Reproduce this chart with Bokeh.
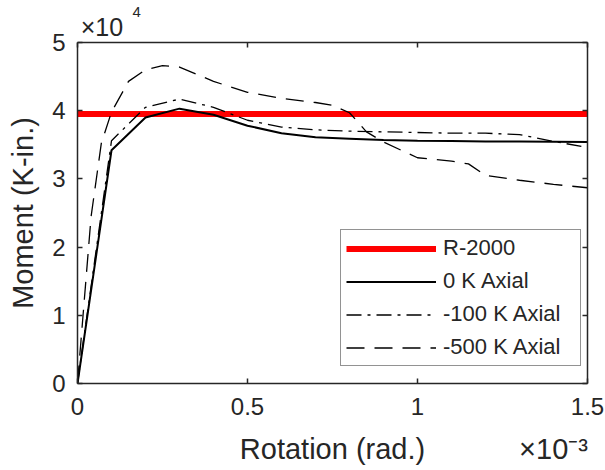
from bokeh.plotting import figure
from bokeh.models import Range1d, LinearAxis, FixedTicker, Legend, LegendItem
from bokeh.embed import file_html
from bokeh.resources import INLINE

# Data (rotation in 1e-3 rad, moment in 1e4 K-in.)
rot_r2000 = [0.0, 1.5]
mom_r2000 = [3.95, 3.95]

rot_0k = [0, 0.1, 0.2, 0.3, 0.4, 0.5, 0.6, 0.7, 0.8, 0.9, 1.0, 1.1, 1.2, 1.3, 1.4, 1.5]
mom_0k = [0, 3.42, 3.90, 4.03, 3.94, 3.78, 3.67, 3.61, 3.59, 3.57, 3.56, 3.555, 3.55, 3.55, 3.545, 3.54]

rot_100k = [0, 0.1, 0.2, 0.3, 0.4, 0.5, 0.6, 0.7, 0.8, 0.9, 1.0, 1.1, 1.2, 1.3, 1.4, 1.5]
mom_100k = [0, 3.56, 4.05, 4.17, 4.05, 3.86, 3.76, 3.72, 3.70, 3.69, 3.68, 3.67, 3.67, 3.65, 3.55, 3.46]

rot_500k = [0, 0.04, 0.07, 0.1, 0.15, 0.2, 0.25, 0.3, 0.4, 0.5, 0.6, 0.7, 0.75, 0.8, 0.85, 0.9, 1.0, 1.1, 1.15, 1.2, 1.3, 1.4, 1.5]
mom_500k = [0, 2.45, 3.52, 3.98, 4.43, 4.60, 4.66, 4.64, 4.43, 4.27, 4.18, 4.12, 4.08, 3.97, 3.69, 3.54, 3.31, 3.26, 3.22, 3.05, 2.98, 2.92, 2.87]

series_labels = ["R-2000", "0 K Axial", "-100 K Axial", "-500 K Axial"]
x_ticks = [0, 0.5, 1, 1.5]
y_ticks = [0, 1, 2, 3, 4, 5]
x_title = "Rotation (rad.)"
y_title = "Moment (K-in.)"
x_mult = "×10⁻³"
y_mult_base = "×10"
y_mult_exp = "4"

FONT = "Liberation Sans"
DARK = "#262626"

p = figure(width=605, height=470, x_range=Range1d(0, 1.5), y_range=Range1d(0, 5),
           output_backend="svg", toolbar_location=None,
           min_border_left=77, min_border_right=18, min_border_top=42, min_border_bottom=87,
           y_axis_label=y_title)
p.xgrid.visible = False
p.ygrid.visible = False
p.outline_line_color = None
p.background_fill_color = "white"
p.border_fill_color = "white"

# exponent of the y multiplier, as the (left aligned) title
p.title.text = y_mult_exp
p.title.align = "left"
p.title.offset = 55
p.title.standoff = -15
p.title.text_font = FONT
p.title.text_font_size = "15px"
p.title.text_font_style = "normal"
p.title.text_color = DARK

p.add_layout(LinearAxis(), "above")
p.add_layout(LinearAxis(), "right")

for ax in p.xaxis:
    ax.ticker = FixedTicker(ticks=x_ticks, minor_ticks=[])
for ax in p.yaxis:
    ax.ticker = FixedTicker(ticks=y_ticks, minor_ticks=[])

for ax in p.axis:
    ax.axis_line_color = DARK
    ax.axis_line_width = 1.5
    ax.major_tick_line_color = DARK
    ax.major_tick_line_width = 1.5
    ax.major_tick_in = 5
    ax.major_tick_out = 0
    ax.minor_tick_line_color = None
    ax.major_label_text_font = FONT
    ax.major_label_text_font_size = "24px"
    ax.major_label_text_color = DARK
    ax.axis_label_text_font = FONT
    ax.axis_label_text_font_size = "29px"
    ax.axis_label_text_font_style = "normal"
    ax.axis_label_text_color = DARK

p.below[0].major_label_standoff = 14
p.left[0].major_label_standoff = 12
p.left[0].axis_label_standoff = 10
p.above[0].major_label_overrides = {t: "" for t in x_ticks}
p.above[0].major_label_standoff = 0
p.right[0].major_label_overrides = {t: "" for t in y_ticks}
p.right[0].major_label_standoff = 0


def text_axis(ticks, labels, size, standoff):
    ax = LinearAxis(ticker=FixedTicker(ticks=ticks, minor_ticks=[]),
                    major_label_overrides=dict(zip(ticks, labels)))
    ax.axis_line_color = None
    ax.major_tick_line_color = None
    ax.minor_tick_line_color = None
    ax.major_tick_in = 0
    ax.major_tick_out = 0
    ax.major_label_standoff = standoff
    ax.major_label_text_font = FONT
    ax.major_label_text_font_size = size
    ax.major_label_text_color = DARK
    return ax


# base of the y multiplier, just above the frame
p.add_layout(text_axis([0.072], [y_mult_base], "25px", 2), "above")
# second row below the x axis: axis title and the x multiplier
p.add_layout(text_axis([0.75, 1.4], [x_title, x_mult], "29px", 15), "below")

r0 = p.line(rot_r2000, mom_r2000, line_color="#ff0000", line_width=6)
r1 = p.line(rot_0k, mom_0k, line_color="black", line_width=2)
r2 = p.line(rot_100k, mom_100k, line_color="black", line_width=1.3, line_dash="15 6 3 6")
r3 = p.line(rot_500k, mom_500k, line_color="black", line_width=1.3, line_dash="18 10")

legend = Legend(items=[LegendItem(label=series_labels[0], renderers=[r0]),
                       LegendItem(label=series_labels[1], renderers=[r1]),
                       LegendItem(label=series_labels[2], renderers=[r2]),
                       LegendItem(label=series_labels[3], renderers=[r3])],
                location=(263, 17))
legend.padding = 5
legend.spacing = 7
legend.margin = 0
legend.label_height = 25
legend.glyph_height = 25
legend.glyph_width = 90
legend.label_standoff = 7
legend.label_width = 132
legend.label_text_font = FONT
legend.label_text_font_size = "22px"
legend.label_text_color = DARK
legend.border_line_color = DARK
legend.border_line_width = 1.5
legend.background_fill_color = "white"
legend.background_fill_alpha = 1.0
p.add_layout(legend)

open("out.html", "w").write(file_html(p, INLINE))
